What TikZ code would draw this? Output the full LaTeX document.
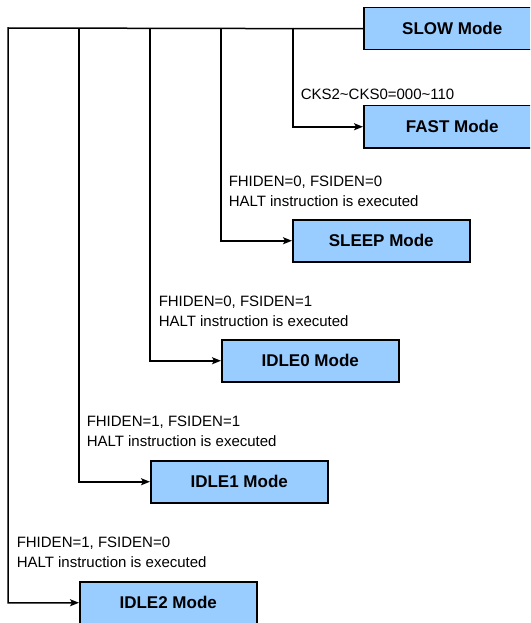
\documentclass[tikz,border=0pt]{standalone}
\usepackage{fontspec}
\setmainfont{Liberation Sans}
\usetikzlibrary{arrows.meta}
\definecolor{modeblue}{RGB}{153,204,255}

\begin{document}
\begin{tikzpicture}[x=1pt,y=-1pt,line width=1.5pt,
  modebox/.style={draw=black,fill=modeblue,minimum width=177pt,minimum height=42pt,
    anchor=north west,inner sep=0pt,font=\fontsize{17}{20}\selectfont\bfseries},
  cond/.style={anchor=base west,inner sep=0pt,font=\fontsize{15}{18}\selectfont},
  jump/.style={-{Stealth[length=9pt,width=7pt,inset=2pt]}}]
\useasboundingbox (0,0) rectangle (530,623);
\clip (0,0) rectangle (530,623);
% Drawing mode boxes
\node[modebox] (slow) at (363,7) {SLOW Mode};
\node[modebox] (fast) at (363,105) {FAST Mode};
\node[modebox] (sleep) at (292,219) {SLEEP Mode};
\node[modebox] (idle0) at (221,339) {IDLE0 Mode};
\node[modebox] (idle1) at (150,460) {IDLE1 Mode};
\node[modebox] (idle2) at (79,581) {IDLE2 Mode};
% Drawing branch points on the bus
\coordinate (b0) at (8,28);
\coordinate (b1) at (79,28);
\coordinate (b2) at (150,28);
\coordinate (b3) at (221,28);
\coordinate (b4) at (293,28);
% Drawing transitions
\draw[jump] (slow.west) -- (b0) |- (idle2.west);
\draw[jump] (b1) |- (idle1.west);
\draw[jump] (b2) |- (idle0.west);
\draw[jump] (b3) |- (sleep.west);
\draw[jump] (b4) |- (fast.west);
% Drawing conditions
\node[cond] (cfast) at (300,100) {CKS2\textasciitilde CKS0=000\textasciitilde 110};
\node[cond] (csleepa) at (228,186) {FHIDEN=0, FSIDEN=0};
\node[cond] (csleepb) at (228,206) {HALT instruction is executed};
\node[cond] (cidlezeroa) at (158,306) {FHIDEN=0, FSIDEN=1};
\node[cond] (cidlezerob) at (158,326) {HALT instruction is executed};
\node[cond] (cidleonea) at (86,426) {FHIDEN=1, FSIDEN=1};
\node[cond] (cidleoneb) at (86,446) {HALT instruction is executed};
\node[cond] (cidletwoa) at (16,547) {FHIDEN=1, FSIDEN=0};
\node[cond] (cidletwob) at (16,567) {HALT instruction is executed};
\end{tikzpicture}
\end{document}
